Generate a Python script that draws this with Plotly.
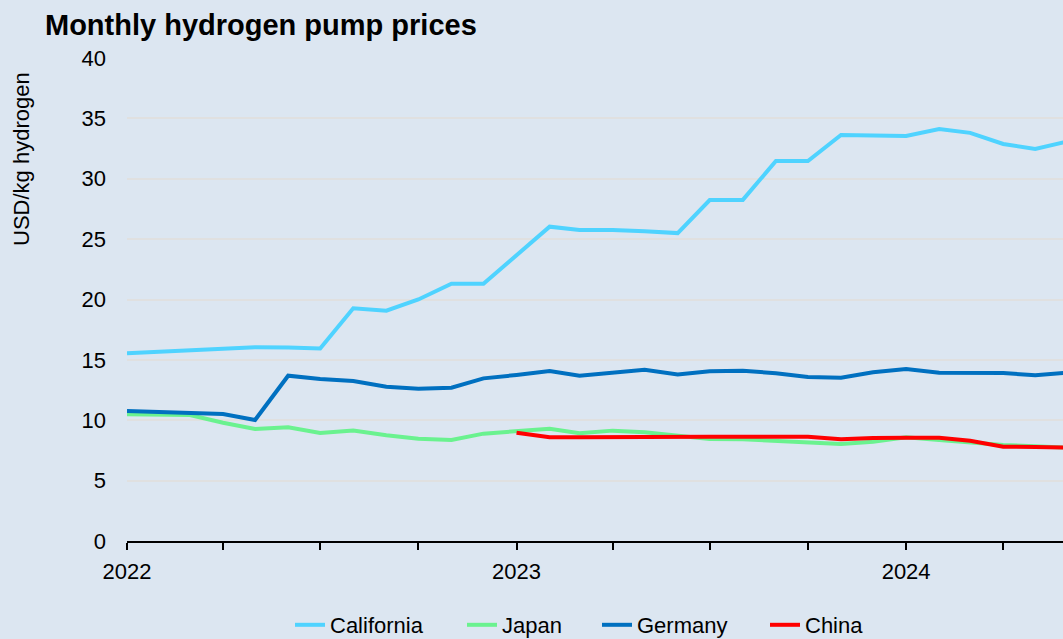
import plotly.graph_objects as go
import pandas as pd

months = pd.date_range("2022-01-01", "2024-06-01", freq="MS")
china_months = pd.date_range("2023-01-01", "2024-06-01", freq="MS")

california = [15.54, 15.68, 15.78, 15.90, 16.05, 16.03, 15.95, 19.27, 19.07, 20.0, 21.3, 21.3,
              23.7, 26.03, 25.76, 25.75, 25.65, 25.5, 28.24, 28.25, 31.47, 31.47, 33.62, 33.58,
              33.54, 34.12, 33.8, 32.88, 32.46, 33.1]
japan = [10.49, 10.49, 10.43, 9.8, 9.28, 9.42, 8.94, 9.14, 8.75, 8.47, 8.36, 8.89,
         9.1, 9.3, 8.92, 9.14, 9.0, 8.75, 8.45, 8.42, 8.28, 8.17, 8.03, 8.22,
         8.59, 8.36, 8.17, 7.95, 7.84, 7.72]
germany = [10.77, 10.69, 10.6, 10.52, 10.02, 13.69, 13.42, 13.25, 12.78, 12.61, 12.70, 13.47,
           13.75, 14.08, 13.69, 13.97, 14.19, 13.80, 14.05, 14.10, 13.89, 13.58, 13.53, 13.97,
           14.24, 13.94, 13.94, 13.91, 13.72, 13.95]
china = [8.97, 8.59, 8.59, 8.62, 8.64, 8.64, 8.64, 8.64, 8.64, 8.64, 8.42, 8.53,
         8.56, 8.56, 8.31, 7.81, 7.78, 7.73]

FONT = "Liberation Sans, Arial, sans-serif"
BG = "#DCE6F1"
L, T, W, H = 127, 58, 936, 483

fig = go.Figure()
fig.add_trace(go.Scatter(x=months, y=california, name="California", mode="lines",
                         line=dict(color="#4FD3FF", width=4), legend="legend"))
fig.add_trace(go.Scatter(x=months, y=japan, name="Japan", mode="lines",
                         line=dict(color="#6AF28F", width=4), legend="legend2"))
fig.add_trace(go.Scatter(x=months, y=germany, name="Germany", mode="lines",
                         line=dict(color="#0070C0", width=4), legend="legend3"))
fig.add_trace(go.Scatter(x=china_months, y=china, name="China", mode="lines",
                         line=dict(color="#FF0000", width=4), legend="legend4"))


def leg(px_left):
    return dict(orientation="h", x=(px_left - L) / W, xanchor="left",
                y=-(625 - 541) / H, yanchor="middle",
                font=dict(size=22, family=FONT, color="black"),
                bgcolor="rgba(0,0,0,0)", borderwidth=0)


fig.update_layout(
    width=1063, height=639,
    paper_bgcolor=BG, plot_bgcolor=BG,
    font=dict(family=FONT, size=22, color="black"),
    margin=dict(l=L, r=0, t=T, b=98, autoexpand=False),
    title=dict(text="<b>Monthly hydrogen pump prices</b>", xref="container", x=45/1063,
               xanchor="left", yref="container", y=1 - 25/639, yanchor="middle",
               font=dict(size=29, family=FONT, color="black")),
    showlegend=True,
    legend=leg(290), legend2=leg(462), legend3=leg(597), legend4=leg(765),
    xaxis=dict(type="date", range=["2022-01-01", "2024-05-27"],
               tick0="2022-01-01", dtick="M12", tickformat="%Y",
               ticks="outside", ticklen=7, tickwidth=1.5, tickcolor="black",
               showline=True, linecolor="black", linewidth=1.5,
               showgrid=False, zeroline=False, ticklabelstandoff=3,
               minor=dict(dtick="M3", tick0="2022-01-01", ticks="outside", ticklen=7,
                          tickwidth=1.5, tickcolor="black", showgrid=False)),
    yaxis=dict(range=[0, 40], dtick=5, showgrid=True, gridcolor="#E0E0E0", gridwidth=1.5,
               zeroline=False, showline=False, ticks="", ticklabelstandoff=20),
    annotations=[dict(text="USD/kg hydrogen", textangle=-90, xref="paper", yref="paper",
                      x=(21 - L) / W, y=(541 - 159) / H, xanchor="center", yanchor="middle",
                      showarrow=False, font=dict(size=22, family=FONT, color="black"))],
)

fig.write_html("out.html", config={"displayModeBar": False},
               post_script="document.body.style.margin='0';")
